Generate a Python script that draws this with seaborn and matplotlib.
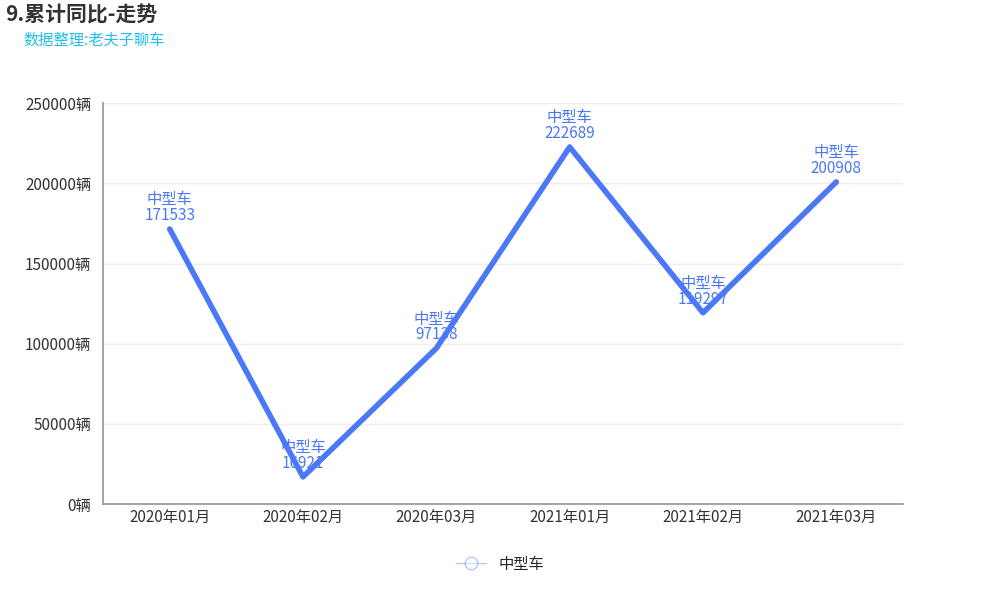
import numpy as np
import pandas as pd
import seaborn as sns
import matplotlib.pyplot as plt
from matplotlib.lines import Line2D

months = ['2020年01月', '2020年02月', '2020年03月', '2021年01月', '2021年02月', '2021年03月']
values = [171533, 16921, 97138, 222689, 119297, 200908]
series_name = '中型车'

sns.set_theme(style='white')
plt.rcParams['font.family'] = ['Noto Sans CJK SC', 'DejaVu Sans']

df = pd.DataFrame({'month': months, 'value': values})
df['x'] = np.arange(len(months))

color = '#4a78f7'
fig = plt.figure(figsize=(10, 6), dpi=100)
ax = fig.add_axes([0.103, 0.16, 0.8, 0.668])

sns.lineplot(data=df, x='x', y='value', ax=ax, color=color, linewidth=4, legend=False)

for xi, v in zip(df['x'], df['value']):
    ax.text(xi, v + 3000, f'{series_name}\n{v}', ha='center', va='bottom',
            color=color, fontsize=11, linespacing=0.9)

ax.set_xlim(-0.5, len(months) - 0.5)
ax.set_ylim(0, 250000)
ax.set_yticks(range(0, 250001, 50000))
ax.set_yticklabels([f'{t}辆' for t in range(0, 250001, 50000)], fontsize=11, color='#333333')
ax.set_xticks(df['x'])
ax.set_xticklabels(months, fontsize=11, color='#333333')
ax.set_xticks(np.arange(-0.5, len(months)), minor=True)
ax.tick_params(axis='x', which='minor', length=5, color='#999999')
ax.tick_params(axis='x', which='major', length=0)
ax.tick_params(axis='y', length=5, color='#999999')
ax.yaxis.grid(True, color='#eeeeee')
ax.set_xlabel('')
ax.set_ylabel('')
for s in ['top', 'right']:
    ax.spines[s].set_visible(False)
for s in ['left', 'bottom']:
    ax.spines[s].set_color('#999999')

fig.text(0.005, 0.975, '9.累计同比-走势', fontsize=15, fontweight='bold', color='#333333', va='center')
fig.text(0.023, 0.933, '数据整理:老夫子聊车', fontsize=11, color='#22c0e8', va='center')

handle = Line2D([0], [0], color=color, linewidth=1, marker='o', markersize=9,
                markerfacecolor='white', markeredgecolor=color, alpha=0.4)
fig.legend([handle], [series_name], loc='center', bbox_to_anchor=(0.5, 0.06),
           frameon=False, fontsize=11, handlelength=2)

fig.savefig('out.png')
